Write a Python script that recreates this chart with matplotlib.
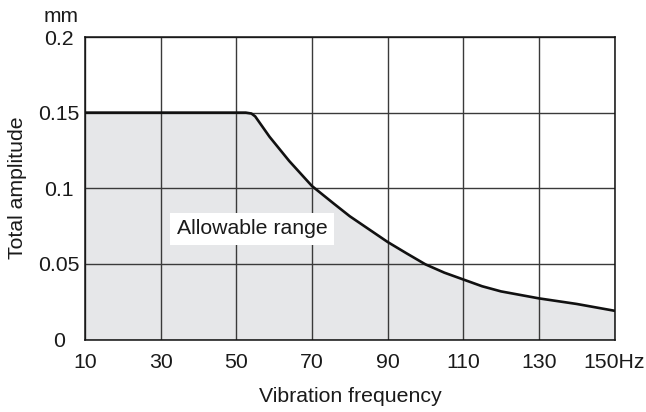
import matplotlib
matplotlib.use("Agg")
import matplotlib.pyplot as plt

plt.rcParams['font.family'] = ['Liberation Sans', 'DejaVu Sans']

# Data
freq = [10, 52.5, 54, 55, 58.8, 64, 70, 75.7, 80, 85, 90, 95, 100, 105, 110,
        115, 120, 130, 140, 150]
amplitude = [0.15, 0.15, 0.1494, 0.1475, 0.134, 0.118, 0.1015, 0.090, 0.0815,
             0.073, 0.0645, 0.057, 0.0497, 0.0442, 0.0397, 0.0352, 0.0318,
             0.0272, 0.0235, 0.019]
x_ticks = [10, 30, 50, 70, 90, 110, 130, 150]
x_tick_labels = ['10', '30', '50', '70', '90', '110', '130', '150Hz']
y_ticks = [0, 0.05, 0.1, 0.15, 0.2]
y_tick_labels = ['0', '0.05', '0.1', '0.15', '0.2']

fig = plt.figure(figsize=(6.46, 4.12), dpi=100)
ax = fig.add_axes([85/646, 1-339.5/412, (614.5-85)/646, (339.5-37)/412])

ax.fill_between(freq, 0, amplitude, color='#e6e7e9', zorder=1, linewidth=0)
ax.grid(True, color='#3a3a3a', linewidth=1.0, zorder=2)
ax.set_axisbelow(False)
ax.plot(freq, amplitude, color='#111111', linewidth=1.9, zorder=3,
        solid_joinstyle='round')

ax.set_xlim(10, 150)
ax.set_ylim(0, 0.2)
ax.set_xticks(x_ticks)
ax.set_xticklabels(x_tick_labels)
ax.set_yticks(y_ticks)
ax.set_yticklabels(y_tick_labels)
ax.tick_params(axis='both', length=0, labelsize=15.3, colors='#1a1a1a')
ax.tick_params(axis='x', pad=9.5)
ax.tick_params(axis='y', pad=19)
for lbl in ax.get_yticklabels():
    lbl.set_horizontalalignment('center')

for s in ax.spines.values():
    s.set_color('#111111')
    s.set_linewidth(1.1)
    s.set_zorder(4)

ax.text(34.2, 0.0733, 'Allowable range', fontsize=15.3, color='#1a1a1a',
        ha='left', va='center', zorder=5,
        bbox=dict(boxstyle='square,pad=0.3', facecolor='white', edgecolor='none'))

fig.text(61/646, 1-17/412, 'mm', fontsize=15, ha='center', va='center', color='#1a1a1a')
fig.text(18/646, 1-188/412, 'Total amplitude', fontsize=15.3, rotation=90,
         ha='center', va='center', color='#1a1a1a')
fig.text(350/646, 1-397/412, 'Vibration frequency', fontsize=15.3,
         ha='center', va='center', color='#1a1a1a')

fig.savefig('out.png', dpi=100, facecolor='white')
